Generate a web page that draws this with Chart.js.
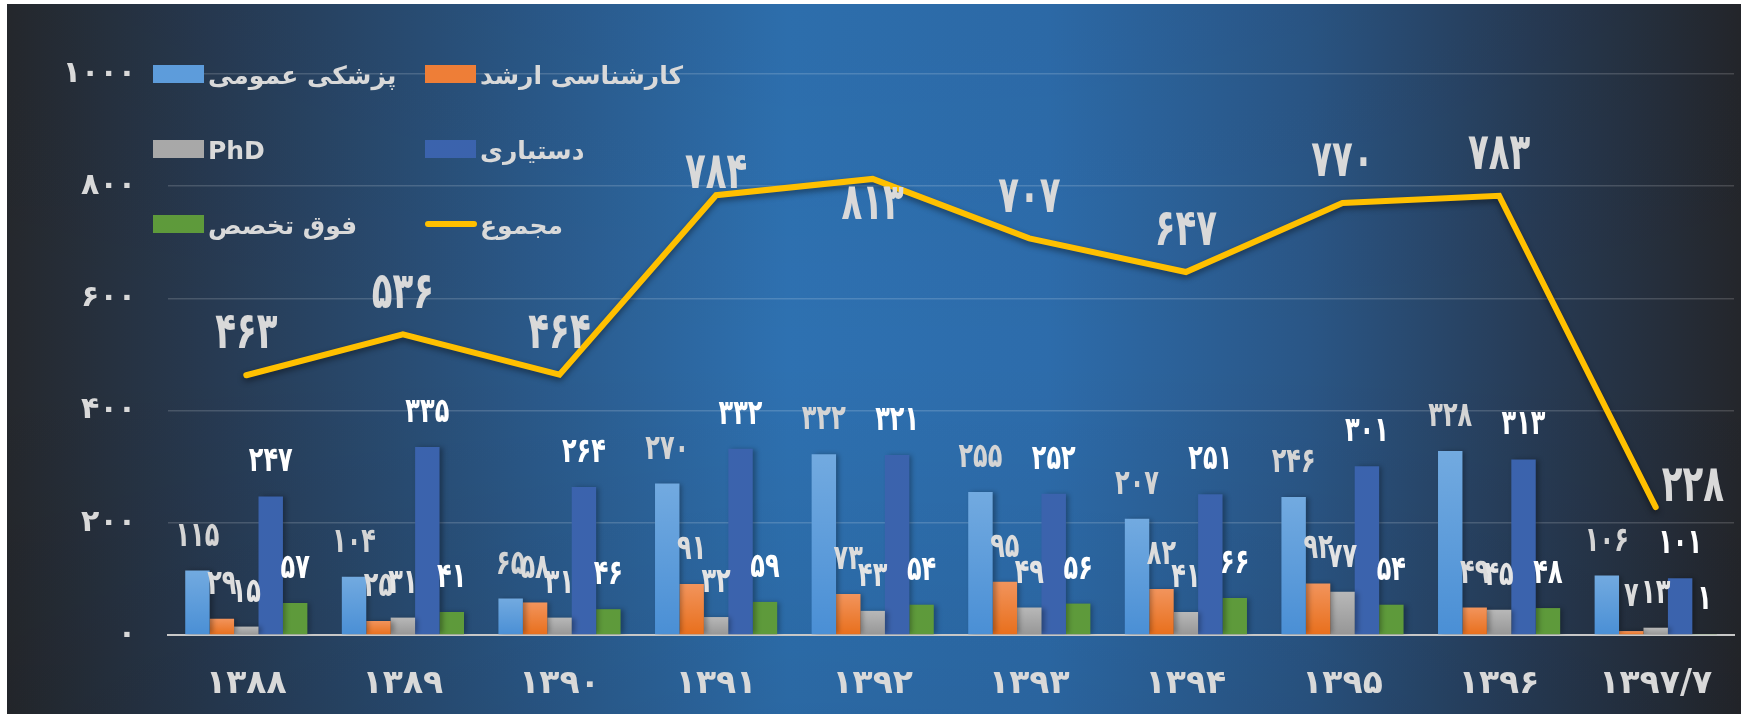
<!DOCTYPE html>
<html>
<head>
<meta charset="utf-8">
<style>
  html, body { margin: 0; padding: 0; background: #fff; }
  #wrap { position: absolute; left: 7px; top: 4px; width: 1734px; height: 710px; }
</style>
</head>
<body>
<div id="wrap"><canvas id="myChart"></canvas></div>

<script src="https://cdn.jsdelivr.net/npm/chart.js"></script>

<script>
// داده‌ها
const years = ['۱۳۸۸', '۱۳۸۹', '۱۳۹۰', '۱۳۹۱', '۱۳۹۲', '۱۳۹۳', '۱۳۹۴', '۱۳۹۵', '۱۳۹۶', '۱۳۹۷/۷'];
const generalMed   = [115, 104, 65, 270, 322, 255, 207, 246, 328, 106];
const masters      = [29, 25, 58, 91, 73, 95, 82, 92, 49, 7];
const phd          = [15, 31, 31, 32, 43, 49, 41, 77, 45, 13];
const residency    = [247, 335, 264, 332, 321, 252, 251, 301, 313, 101];
const subspecialty = [57, 41, 46, 59, 54, 56, 66, 54, 48, 1];
const total        = [463, 536, 464, 784, 813, 707, 647, 770, 783, 228];
const yTicks = [0, 200, 400, 600, 800, 1000];

// where the total label sits relative to its point
const totalLabelPos = ['up', 'up', 'up', 'near', 'down', 'up', 'up', 'up', 'up', 'right'];

const FONT = "'DejaVu Sans', sans-serif";
const toFa = n => String(n).replace(/\d/g, d => '۰۱۲۳۴۵۶۷۸۹'[d]);

// per-bar vertical gradient
function barGradient(top, bottom) {
  return (c) => {
    const chart = c.chart;
    if (!chart.chartArea || c.raw === undefined) return bottom;
    const y = chart.scales.y;
    const y0 = y.getPixelForValue(c.raw), y1 = y.getPixelForValue(0);
    if (!isFinite(y0) || !isFinite(y1) || y0 === y1) return bottom;
    const g = chart.ctx.createLinearGradient(0, y0, 0, y1);
    g.addColorStop(0, top);
    g.addColorStop(1, bottom);
    return g;
  };
}

// tall, narrow digits like the original Persian font
function tallText(ctx, txt, x, y, sy) {
  ctx.save();
  ctx.translate(x, y);
  ctx.scale(1, sy);
  ctx.fillText(txt, 0, 0);
  ctx.restore();
}

const bgPlugin = {
  id: 'bg',
  beforeDraw(chart) {
    const {ctx, width, height} = chart;
    ctx.save();
    const g = ctx.createLinearGradient(0, 0, width, 0);
    g.addColorStop(0, '#25282d');
    g.addColorStop(0.12, '#273a52');
    g.addColorStop(0.3, '#2a5888');
    g.addColorStop(0.45, '#2e71b1');
    g.addColorStop(0.6, '#2d6cab');
    g.addColorStop(0.75, '#2a5686');
    g.addColorStop(0.88, '#273b55');
    g.addColorStop(1, '#24262b');
    ctx.fillStyle = g;
    ctx.fillRect(0, 0, width, height);
    const v = ctx.createLinearGradient(0, 0, 0, height);
    v.addColorStop(0, 'rgba(0,0,0,0.03)');
    v.addColorStop(0.5, 'rgba(0,0,0,0)');
    v.addColorStop(1, 'rgba(0,0,0,0.08)');
    ctx.fillStyle = v;
    ctx.fillRect(0, 0, width, height);
    ctx.restore();
  }
};

const shadowPlugin = {
  id: 'shadows',
  beforeDatasetDraw(chart, args) {
    const ctx = chart.ctx;
    ctx.save();
    if (args.meta.type === 'line') {
      ctx.shadowColor = 'rgba(0,0,0,0.45)';
      ctx.shadowBlur = 6;
      ctx.shadowOffsetY = 3;
    } else {
      ctx.shadowColor = 'rgba(0,0,0,0.3)';
      ctx.shadowBlur = 5;
      ctx.shadowOffsetX = 3;
    }
  },
  afterDatasetDraw(chart) {
    chart.ctx.restore();
  }
};

const labelPlugin = {
  id: 'valueLabels',
  afterDatasetsDraw(chart) {
    const ctx = chart.ctx;
    ctx.save();
    ctx.textBaseline = 'middle';
    chart.data.datasets.forEach((ds, i) => {
      const meta = chart.getDatasetMeta(i);
      meta.data.forEach((el, j) => {
        const txt = toFa(ds.data[j]);
        ctx.textAlign = 'center';
        if (meta.type === 'line') {
          ctx.font = 'bold 34px ' + FONT;
          ctx.fillStyle = '#d9d9d9';
          const pos = totalLabelPos[j];
          let x = el.x, y = el.y - 40;
          if (pos === 'near') y = el.y - 20;
          if (pos === 'down') y = el.y + 27;
          if (pos === 'right') { ctx.textAlign = 'left'; x = el.x + 6; y = el.y - 19; }
          tallText(ctx, txt, x, y, 1.5);
        } else {
          ctx.font = 'bold 24px ' + FONT;
          ctx.fillStyle = ds.labelColor;
          tallText(ctx, txt, el.x, el.y - 34, 1.45);
        }
      });
    });
    ctx.restore();
  }
};

const legendPlugin = {
  id: 'gridLegend',
  afterDraw(chart) {
    const ctx = chart.ctx;
    const cols = [146, 418];
    const rows = [70, 145, 220];
    ctx.save();
    ctx.font = 'bold 25px ' + FONT;
    ctx.textBaseline = 'middle';
    ctx.textAlign = 'left';
    chart.data.datasets.forEach((ds, i) => {
      const x = cols[i % 2], y = rows[Math.floor(i / 2)];
      if (ds.type === 'line') {
        ctx.strokeStyle = ds.borderColor;
        ctx.lineWidth = 6;
        ctx.lineCap = 'round';
        ctx.beginPath();
        ctx.moveTo(x + 3, y);
        ctx.lineTo(x + 49, y);
        ctx.stroke();
      } else {
        ctx.fillStyle = ds.legendColor;
        ctx.fillRect(x, y - 9, 51, 18);
      }
      ctx.fillStyle = '#d9d9d9';
      ctx.fillText(ds.label, x + 55, y + 3);
    });
    ctx.restore();
  }
};

const ctx = document.getElementById('myChart').getContext('2d');

new Chart(ctx, {
  type: 'bar',
  data: {
    labels: years,
    datasets: [
      { label: 'پزشکی عمومی', data: generalMed, order: 1,
        backgroundColor: barGradient('#72aae0', '#4a8fd5'), legendColor: '#5d9cdb', labelColor: '#d4d4d4' },
      { label: 'کارشناسی ارشد', data: masters, order: 1,
        backgroundColor: barGradient('#f2945c', '#e86f1c'), legendColor: '#ee7e37', labelColor: '#dcdcdc' },
      { label: 'PhD', data: phd, order: 1,
        backgroundColor: barGradient('#b8b8b8', '#969696'), legendColor: '#a8a8a8', labelColor: '#e4e4e4' },
      { label: 'دستیاری', data: residency, order: 1,
        backgroundColor: '#3b63ad', legendColor: '#3b63ad', labelColor: '#ffffff' },
      { label: 'فوق تخصص', data: subspecialty, order: 1,
        backgroundColor: '#5e9a3b', legendColor: '#5e9a3b', labelColor: '#ffffff' },
      { type: 'line', label: 'مجموع', data: total, order: 0,
        borderColor: '#ffc000', borderWidth: 6, tension: 0, fill: false,
        pointRadius: 0, borderCapStyle: 'round', borderJoinStyle: 'miter' }
    ]
  },
  options: {
    responsive: true,
    maintainAspectRatio: false,
    animation: false,
    layout: { padding: { top: 70, right: 7, bottom: 0, left: 0 } },
    datasets: {
      bar: { categoryPercentage: 0.78, barPercentage: 1.0 }
    },
    plugins: {
      legend: { display: false },
      tooltip: { enabled: false }
    },
    scales: {
      x: {
        grid: { display: false },
        border: { display: true, color: '#c8c8c8', width: 2 },
        ticks: { color: '#d9d9d9', padding: 22, font: { family: FONT, size: 33, weight: 'bold' } },
        afterFit: s => { s.height = 79; }
      },
      y: {
        min: 0,
        max: 1000,
        afterBuildTicks: s => { s.ticks = yTicks.map(v => ({ value: v })); },
        border: { display: false },
        grid: {
          drawTicks: false,
          color: c => c.tick && c.tick.value === 0 ? 'rgba(0,0,0,0)' : 'rgba(255,255,255,0.16)',
          lineWidth: 1.5
        },
        ticks: {
          color: '#d9d9d9',
          padding: 32,
          font: { family: FONT, size: 30, weight: 'bold' },
          callback: v => toFa(v)
        },
        afterFit: s => { s.width = 161; }
      }
    }
  },
  plugins: [bgPlugin, shadowPlugin, labelPlugin, legendPlugin]
});
</script>
</body>
</html>
